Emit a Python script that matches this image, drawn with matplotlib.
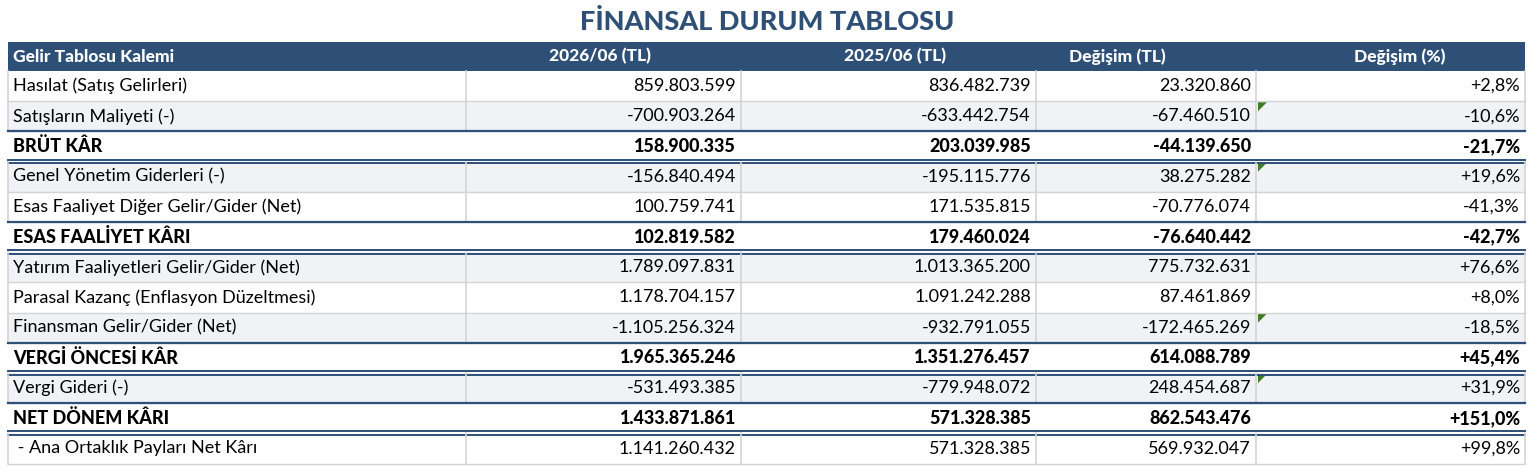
import matplotlib
matplotlib.use("Agg")
import matplotlib.pyplot as plt
from matplotlib.patches import Rectangle, Polygon

title = "FİNANSAL DURUM TABLOSU"
headers = ["Gelir Tablosu Kalemi", "2026/06 (TL)", "2025/06 (TL)", "Değişim (TL)", "Değişim (%)"]
items = ["Hasılat (Satış Gelirleri)", "Satışların Maliyeti (-)", "BRÜT KÂR",
         "Genel Yönetim Giderleri (-)", "Esas Faaliyet Diğer Gelir/Gider (Net)", "ESAS FAALİYET KÂRI",
         "Yatırım Faaliyetleri Gelir/Gider (Net)", "Parasal Kazanç (Enflasyon Düzeltmesi)",
         "Finansman Gelir/Gider (Net)", "VERGİ ÖNCESİ KÂR", "Vergi Gideri (-)", "NET DÖNEM KÂRI",
         " - Ana Ortaklık Payları Net Kârı"]
val_2026 = ["859.803.599", "-700.903.264", "158.900.335", "-156.840.494", "100.759.741", "102.819.582",
            "1.789.097.831", "1.178.704.157", "-1.105.256.324", "1.965.365.246", "-531.493.385",
            "1.433.871.861", "1.141.260.432"]
val_2025 = ["836.482.739", "-633.442.754", "203.039.985", "-195.115.776", "171.535.815", "179.460.024",
            "1.013.365.200", "1.091.242.288", "-932.791.055", "1.351.276.457", "-779.948.072",
            "571.328.385", "571.328.385"]
chg_tl = ["23.320.860", "-67.460.510", "-44.139.650", "38.275.282", "-70.776.074", "-76.640.442",
          "775.732.631", "87.461.869", "-172.465.269", "614.088.789", "248.454.687",
          "862.543.476", "569.932.047"]
chg_pct = ["+2,8%", "-10,6%", "-21,7%", "+19,6%", "-41,3%", "-42,7%", "+76,6%", "+8,0%",
           "-18,5%", "+45,4%", "+31,9%", "+151,0%", "+99,8%"]
bold_rows = [2, 5, 9, 11]
gray_rows = [1, 3, 6, 8, 10]
flag_rows = [1, 3, 8, 10]

W, H = 1534, 476
NAVY = "#2E5077"
plt.rcParams["font.family"] = ["Lato", "DejaVu Sans"]

fig = plt.figure(figsize=(W / 100, H / 100), dpi=100)
ax = fig.add_axes([0, 0, 1, 1])
ax.set_xlim(0, W)
ax.set_ylim(H, 0)
ax.axis("off")

cols = [8, 466, 741, 1036, 1256, 1525]
top, hdr_h, row_h = 42, 29, 30.2

ax.text(W / 2, 22, title, ha="center", va="center", fontsize=19.5, fontweight="black", color=NAVY)

ax.add_patch(Rectangle((cols[0], top), cols[-1] - cols[0], hdr_h, color=NAVY, lw=0))
for j, h in enumerate(headers):
    if j == 0:
        ax.text(cols[0] + 5, top + hdr_h / 2, h, ha="left", va="center", color="white",
                fontsize=12.5, fontweight="black")
    else:
        ax.text(cols[j + 1] - 80 if j == 4 else cols[j + 1] - 90, top + hdr_h / 2, h,
                ha="right", va="center", color="white", fontsize=12.5, fontweight="black")

y0 = top + hdr_h
for i in range(len(items)):
    y = y0 + i * row_h
    bold = i in bold_rows
    bg = "#F1F2F6" if i in gray_rows else "white"
    ax.add_patch(Rectangle((cols[0], y), cols[-1] - cols[0], row_h, color=bg, lw=0))
    if not bold:
        for x in cols:
            ax.plot([x, x], [y, y + row_h], color="#D4D4D4", lw=1.2)
        ax.plot([cols[0], cols[-1]], [y + row_h, y + row_h], color="#D4D4D4", lw=1.0)
    else:
        ax.plot([cols[0], cols[-1]], [y, y], color=NAVY, lw=1.6)
        ax.plot([cols[0], cols[-1]], [y + row_h - 2, y + row_h - 2], color=NAVY, lw=1.4)
        ax.plot([cols[0], cols[-1]], [y + row_h + 1.5, y + row_h + 1.5], color=NAVY, lw=1.4)
    fw = "black" if bold else "normal"
    cy = y + row_h / 2
    ax.text(cols[0] + 5, cy, items[i], ha="left", va="center", fontsize=13, fontweight=fw, color="black")
    for j, vals in enumerate([val_2026, val_2025, chg_tl, chg_pct]):
        ax.text(cols[j + 2] - 5, cy, vals[i], ha="right", va="center", fontsize=13,
                fontweight=fw, color="black")
    if i in flag_rows:
        x = cols[4] + 2
        ax.add_patch(Polygon([[x, y + 1], [x + 9, y + 1], [x, y + 10]], color="#3A7D22", lw=0))

fig.savefig("out.png", dpi=100)
